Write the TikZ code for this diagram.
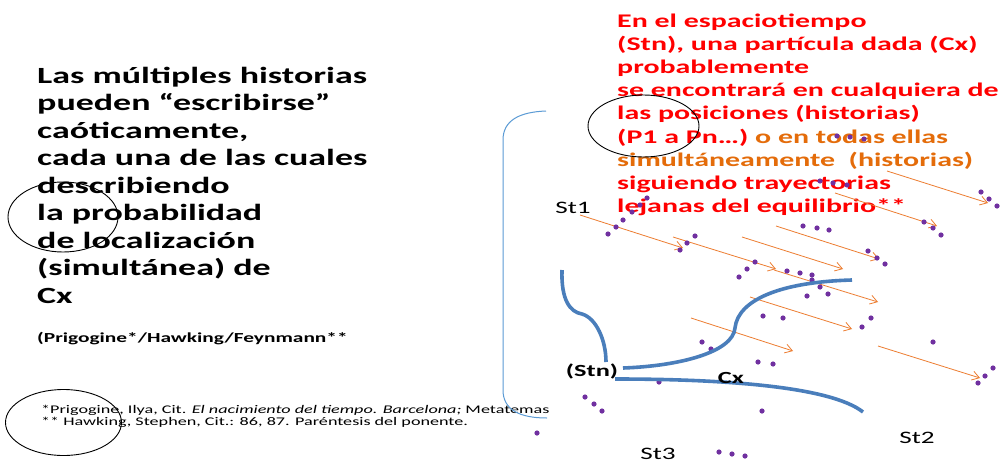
\documentclass[tikz,border=0pt]{standalone}
\usepackage{fontspec}
\setmainfont{Carlito}[FakeStretch=1.55]
\usetikzlibrary{arrows.meta}
\definecolor{redtxt}{HTML}{FF0000}
\definecolor{orgtxt}{HTML}{E46C0A}
\definecolor{traj}{HTML}{ED7D31}
\definecolor{dotc}{HTML}{7030A0}
\definecolor{stnblue}{HTML}{4A7EBB}
\definecolor{brk}{HTML}{5B9BD5}

\begin{document}
\begin{tikzpicture}[
  x=1pt, y=-1pt,
  lft/.style={font=\bfseries\fontsize{23.2}{27}\selectfont, anchor=base west, inner sep=0pt},
  rtx/.style={font=\bfseries\fontsize{19.3}{23}\selectfont, text=redtxt, anchor=base west, inner sep=0pt},
  refs/.style={font=\bfseries\fontsize{13.8}{16}\selectfont, anchor=base west, inner sep=0pt},
  foot/.style={font=\fontsize{11.7}{12}\selectfont, anchor=base west, inner sep=0pt},
  stlbl/.style={font=\fontsize{17.5}{20}\selectfont, anchor=base, inner sep=0pt},
  cxlbl/.style={font=\bfseries\fontsize{17}{20}\selectfont, anchor=base, inner sep=0pt},
  wtraj/.style={traj, line width=0.8pt, -{Straight Barb[length=7pt, width=9pt]}},
  wstn/.style={stnblue, line width=3.6pt},
  mark circ/.style={black, line width=0.9pt},
]
\fill[white] (0,0) rectangle (1002,464);
\useasboundingbox (0,0) rectangle (1002,464);

% ---------- left text ----------
\foreach \t [count=\i] in {
  {Las múltiples historias},
  {pueden “escribirse”},
  {caóticamente,},
  {cada una de las cuales},
  {describiendo},
  {la probabilidad},
  {de localización},
  {(simultánea) de},
  {Cx}}
{
  \node[lft] (lft\i) at (37, 83+27.5*\i-27.5) {\t};
}
\node[refs] (refs) at (37,342) {(Prigogine*/Hawking/Feynmann**};
\node[foot] (foot1) at (41,413) {*Prigogine, Ilya, Cit. \textit{El nacimiento del tiempo. Barcelona;} Metatemas};
\node[foot] (foot2) at (41,425) {** Hawking, Stephen, Cit.: 86, 87. Paréntesis del ponente.};

% ---------- red text ----------
\foreach \t [count=\i] in {
  {En el espaciotiempo},
  {(Stn), una partícula dada (Cx)},
  {probablemente},
  {se encontrará en cualquiera de},
  {las posiciones (historias)},
  {(P1 a Pn…) \textcolor{orgtxt}{o en todas ellas}},
  {\textcolor{orgtxt}{simultáneamente~ (historias)}},
  {siguiendo trayectorias},
  {lejanas del equilibrio**}}
{
  \node[rtx] (rtx\i) at (617, 27+23.2*\i-23.2) {\t};
}

% ---------- hand circles ----------
\draw[mark circ] (63,217) ellipse [x radius=55, y radius=35];
\draw[mark circ] (63.5,422.5) ellipse [x radius=58, y radius=33];
\draw[mark circ] (643.5,126) ellipse [x radius=55.5, y radius=31];

% ---------- bracket ----------
\draw[brk, line width=1pt] (546,111) .. controls (520,112) and (503,120) .. (503,140)
  -- (503,390) .. controls (503,410) and (520,418) .. (547,418);

% ---------- trajectories ----------
\foreach \xa/\ya/\xb/\yb in {
  580/215/683/248, 673/237/776/269, 742/237/843/269, 776/226/879/259,
  835/193/937/226, 887/171/988/203, 774/270/878/302, 750/297/852/329,
  691/318/793/351, 878/346/980/378}
{
  \draw[wtraj] (\xa,\ya) -- (\xb,\yb);
}

% ---------- positions (dots) ----------
\foreach \x/\y in {
  837/136, 850/137, 864/139,  820/181, 833/183, 847/185,
  981/192, 989/199, 997/206,  924/222, 933/228, 941/235,
  803/226, 817/228, 829/230,  868/251, 877/258, 885/264,
  755/262, 747/269, 739/277,  787/271, 800/273, 812/275,
  812/280, 820/287, 828/294,  807/296,
  763/316, 783/318,  871/318, 862/327,  702/342, 711/349,
  933/342,  758/362, 773/364,  993/368, 985/376, 978/383,
  659/382,  585/397, 594/404, 602/411,  762/411,  537/433,
  719/452, 732/454, 745/456,  695/236, 687/243, 680/250,
  647/198, 640/205, 632/212, 623/220, 616/227, 608/234}
{
  \fill[dotc] (\x,\y) circle (2.6);
}

% ---------- Stn curves ----------
\draw[wstn] (562,270) .. controls (561,300) and (570,312) .. (582,314)
  .. controls (596,318) and (606,340) .. (606,362);
\draw[wstn] (623,368) .. controls (680,366) and (733,352) .. (735,328)
  .. controls (738,300) and (780,282) .. (852,280);
\draw[wstn] (615,379) .. controls (720,379) and (830,386) .. (863,412);

% ---------- labels ----------
\node[stlbl] (st1) at (573,213) {St1};
\node[stlbl] (st2) at (917,443) {St2};
\node[stlbl] (st3) at (658,459) {St3};
\node[cxlbl] (stn) at (592,376) {(Stn)};
\node[cxlbl] (cx)  at (731,383) {Cx};

\end{tikzpicture}
\end{document}
